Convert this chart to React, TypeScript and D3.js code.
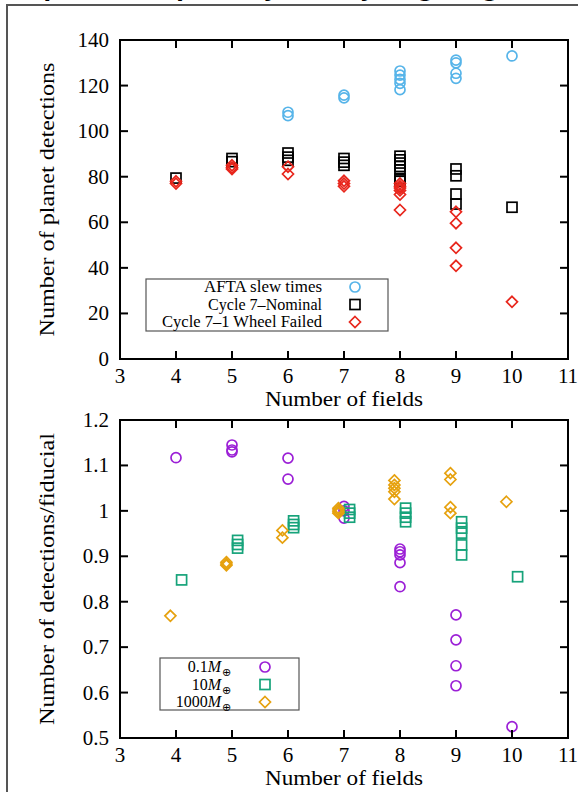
import * as d3 from 'd3';

// ---- data ----
const topTicksX = [3, 4, 5, 6, 7, 8, 9, 10, 11];
const topTicksY = [0, 20, 40, 60, 80, 100, 120, 140];
const bottomTicksY = [0.5, 0.6, 0.7, 0.8, 0.9, 1, 1.1, 1.2];

// [number of fields, detections...]
const aftaSlew: [number, number[]][] = [
  [6, [108.3, 106.8]],
  [7, [115.8, 114.6]],
  [8, [126.4, 124.6, 122.7, 121, 118.2]],
  [9, [131.2, 130, 125.4, 123.2]],
  [10, [133]],
];
const cycle7Nominal: [number, number[]][] = [
  [4, [79.4]],
  [5, [88, 86.6]],
  [6, [90.4, 88.6, 87.2]],
  [7, [88, 86.4, 85]],
  [8, [89, 87.4, 86, 84.5, 83, 79.2, 78]],
  [9, [83.4, 80.4, 72.4, 68]],
  [10, [66.6]],
];
const cycle7Failed: [number, number[]][] = [
  [4, [78, 77]],
  [5, [85, 84, 83.4]],
  [6, [84.4, 81.2]],
  [7, [78.2, 77, 75.8]],
  [8, [77, 75.8, 75, 74, 72.2, 65.4]],
  [9, [64.6, 59.6, 48.8, 40.9]],
  [10, [25.1]],
];

// ratios to fiducial; x offset per series in field units
const massLabels = ['0.1', '10', '1000'];
const massOffsets = [0, 0.1, -0.1];
const mass01: [number, number[]][] = [
  [4, [1.117]],
  [5, [1.145, 1.134, 1.13]],
  [6, [1.116, 1.07]],
  [7, [1.01, 1.0, 0.984]],
  [8, [0.916, 0.91, 0.903, 0.886, 0.833]],
  [9, [0.771, 0.716, 0.659, 0.615]],
  [10, [0.525]],
];
const mass10: [number, number[]][] = [
  [4, [0.848]],
  [5, [0.935, 0.926, 0.918]],
  [6, [0.978, 0.97, 0.963]],
  [7, [1.003, 0.995, 0.986]],
  [8, [1.006, 0.995, 0.986, 0.976]],
  [9, [0.976, 0.962, 0.951, 0.925, 0.903]],
  [10, [0.855]],
];
const mass1000: [number, number[]][] = [
  [4, [0.769]],
  [5, [0.887, 0.883, 0.88]],
  [6, [0.957, 0.941]],
  [7, [1.006, 1.002, 0.998, 0.995]],
  [8, [1.067, 1.057, 1.05, 1.042, 1.026]],
  [9, [1.083, 1.069, 1.008, 0.995]],
  [10, [1.02]],
];

const BLUE = '#56b4e9';
const RED = '#e8261c';
const PURPLE = '#9b1fd6';
const GREEN = '#16a37a';
const ORANGE = '#e6a10e';
const SERIF = "'Liberation Serif', 'DejaVu Serif', serif";

type Shape = 'circle' | 'square' | 'diamond';

function Marker({ x, y, shape, color }: { x: number; y: number; shape: Shape; color: string }) {
  const sw = 1.7;
  if (shape === 'circle') return <circle cx={x} cy={y} r={5} fill="none" stroke={color} strokeWidth={sw} />;
  if (shape === 'square') return <rect x={x - 5} y={y - 5} width={10} height={10} fill="none" stroke={color} strokeWidth={sw} />;
  const s = 5.5;
  return <path d={`M${x},${y - s}L${x + s},${y}L${x},${y + s}L${x - s},${y}Z`} fill="none" stroke={color} strokeWidth={sw} />;
}

function Panel({ top, bottom, yTicks, yDomain, yFmt, yLabel, yLabelLen, children }: any) {
  const x = d3.scaleLinear().domain([3, 11]).range([120, 568]);
  const y = d3.scaleLinear().domain(yDomain).range([bottom, top]);
  const tl = 8;
  return (
    <g>
      {children(x, y)}
      <rect x={120} y={top} width={448} height={bottom - top} fill="none" stroke="#000" strokeWidth={2} />
      {topTicksX.slice(1, -1).map(t => (
        <g key={'x' + t}>
          <line x1={x(t)} x2={x(t)} y1={bottom} y2={bottom - tl} stroke="#000" strokeWidth={2} />
          <line x1={x(t)} x2={x(t)} y1={top} y2={top + tl} stroke="#000" strokeWidth={2} />
        </g>
      ))}
      {topTicksX.map(t => (
        <text key={'xl' + t} x={x(t)} y={bottom + 24} textAnchor="middle" fontSize={21} fontFamily={SERIF}>{t}</text>
      ))}
      {yTicks.slice(1, -1).map((t: number) => (
        <g key={'y' + t}>
          <line x1={120} x2={120 + tl} y1={y(t)} y2={y(t)} stroke="#000" strokeWidth={2} />
          <line x1={568} x2={568 - tl} y1={y(t)} y2={y(t)} stroke="#000" strokeWidth={2} />
        </g>
      ))}
      {yTicks.map((t: number) => (
        <text key={'yl' + t} x={109} y={y(t) + 7} textAnchor="end" fontSize={21} fontFamily={SERIF}>{yFmt(t)}</text>
      ))}
      <text x={344} y={bottom + 47} textAnchor="middle" fontSize={21} fontFamily={SERIF}
        textLength={158} lengthAdjust="spacingAndGlyphs">Number of fields</text>
      <text transform={`translate(54,${(top + bottom) / 2}) rotate(-90)`} textAnchor="middle" fontSize={21}
        fontFamily={SERIF} textLength={yLabelLen} lengthAdjust="spacingAndGlyphs">{yLabel}</text>
    </g>
  );
}

function series(data: [number, number[]][], x: any, y: any, shape: Shape, color: string, dx = 0, key = '') {
  return data.flatMap(([f, vals]) =>
    vals.map((v, i) => <Marker key={key + f + '-' + i} x={x(f + dx)} y={y(v)} shape={shape} color={color} />)
  );
}

export default function App() {
  const topLegend = [
    { label: 'AFTA slew times', shape: 'circle' as Shape, color: BLUE, len: 118 },
    { label: 'Cycle 7\u2013Nominal', shape: 'square' as Shape, color: '#000', len: 114 },
    { label: 'Cycle 7\u20131 Wheel Failed', shape: 'diamond' as Shape, color: RED, len: 160 },
  ];
  const botShapes: Shape[] = ['circle', 'square', 'diamond'];
  const botColors = [PURPLE, GREEN, ORANGE];
  return (
    <svg width={578} height={792} style={{ position: 'absolute', left: 0, top: 0, background: '#fff' }}>
      <rect x={0} y={0} width={578} height={792} fill="#fff" />
      <text x={300} y={-3} textAnchor="middle" fontSize={22} fontWeight="bold" fontFamily="'DejaVu Sans', sans-serif">
        Comparison of planet yields by targeting strategy
      </text>
      <path d="M7,792V5H580" fill="none" stroke="#555" strokeWidth={2} />

      <Panel top={40} bottom={359} yTicks={topTicksY} yDomain={[0, 140]} yFmt={(t: number) => String(t)}
        yLabel="Number of planet detections" yLabelLen={274}>
        {(x: any, y: any) => (
          <g>
            {series(aftaSlew, x, y, 'circle', BLUE, 0, 'a')}
            {series(cycle7Nominal, x, y, 'square', '#000', 0, 'n')}
            {series(cycle7Failed, x, y, 'diamond', RED, 0, 'f')}
          </g>
        )}
      </Panel>
      <g>
        <rect x={146} y={279} width={242} height={52} fill="#fff" stroke="#555" strokeWidth={1.2} />
        {topLegend.map((d, i) => (
          <g key={d.label}>
            <text x={322} y={292 + i * 17.5} textAnchor="end" fontSize={16} fontFamily={SERIF}
              textLength={d.len} lengthAdjust="spacingAndGlyphs">{d.label}</text>
            <Marker x={355} y={287 + i * 17.5} shape={d.shape} color={d.color} />
          </g>
        ))}
      </g>

      <Panel top={420} bottom={738} yTicks={bottomTicksY} yDomain={[0.5, 1.2]}
        yFmt={(t: number) => (t === 1 ? '1' : d3.format('.1f')(t))} yLabel="Number of detections/fiducial"
        yLabelLen={292}>
        {(x: any, y: any) => (
          <g>
            {series(mass01, x, y, 'circle', PURPLE, massOffsets[0], 'p')}
            {series(mass10, x, y, 'square', GREEN, massOffsets[1], 'g')}
            {series(mass1000, x, y, 'diamond', ORANGE, massOffsets[2], 'o')}
          </g>
        )}
      </Panel>
      <g>
        <rect x={160} y={658} width={139} height={52} fill="#fff" stroke="#555" strokeWidth={1.2} />
        {massLabels.map((m, i) => (
          <g key={m}>
            <text x={221} y={672 + i * 17.5} textAnchor="end" fontSize={16} fontFamily={SERIF}>
              {m}<tspan fontStyle="italic">M</tspan>
            </text>
            <text x={222} y={676 + i * 17.5} fontSize={11} fontFamily="'DejaVu Sans', sans-serif">{'\u2295'}</text>
            <Marker x={265} y={667 + i * 17.5} shape={botShapes[i]} color={botColors[i]} />
          </g>
        ))}
      </g>
    </svg>
  );
}
